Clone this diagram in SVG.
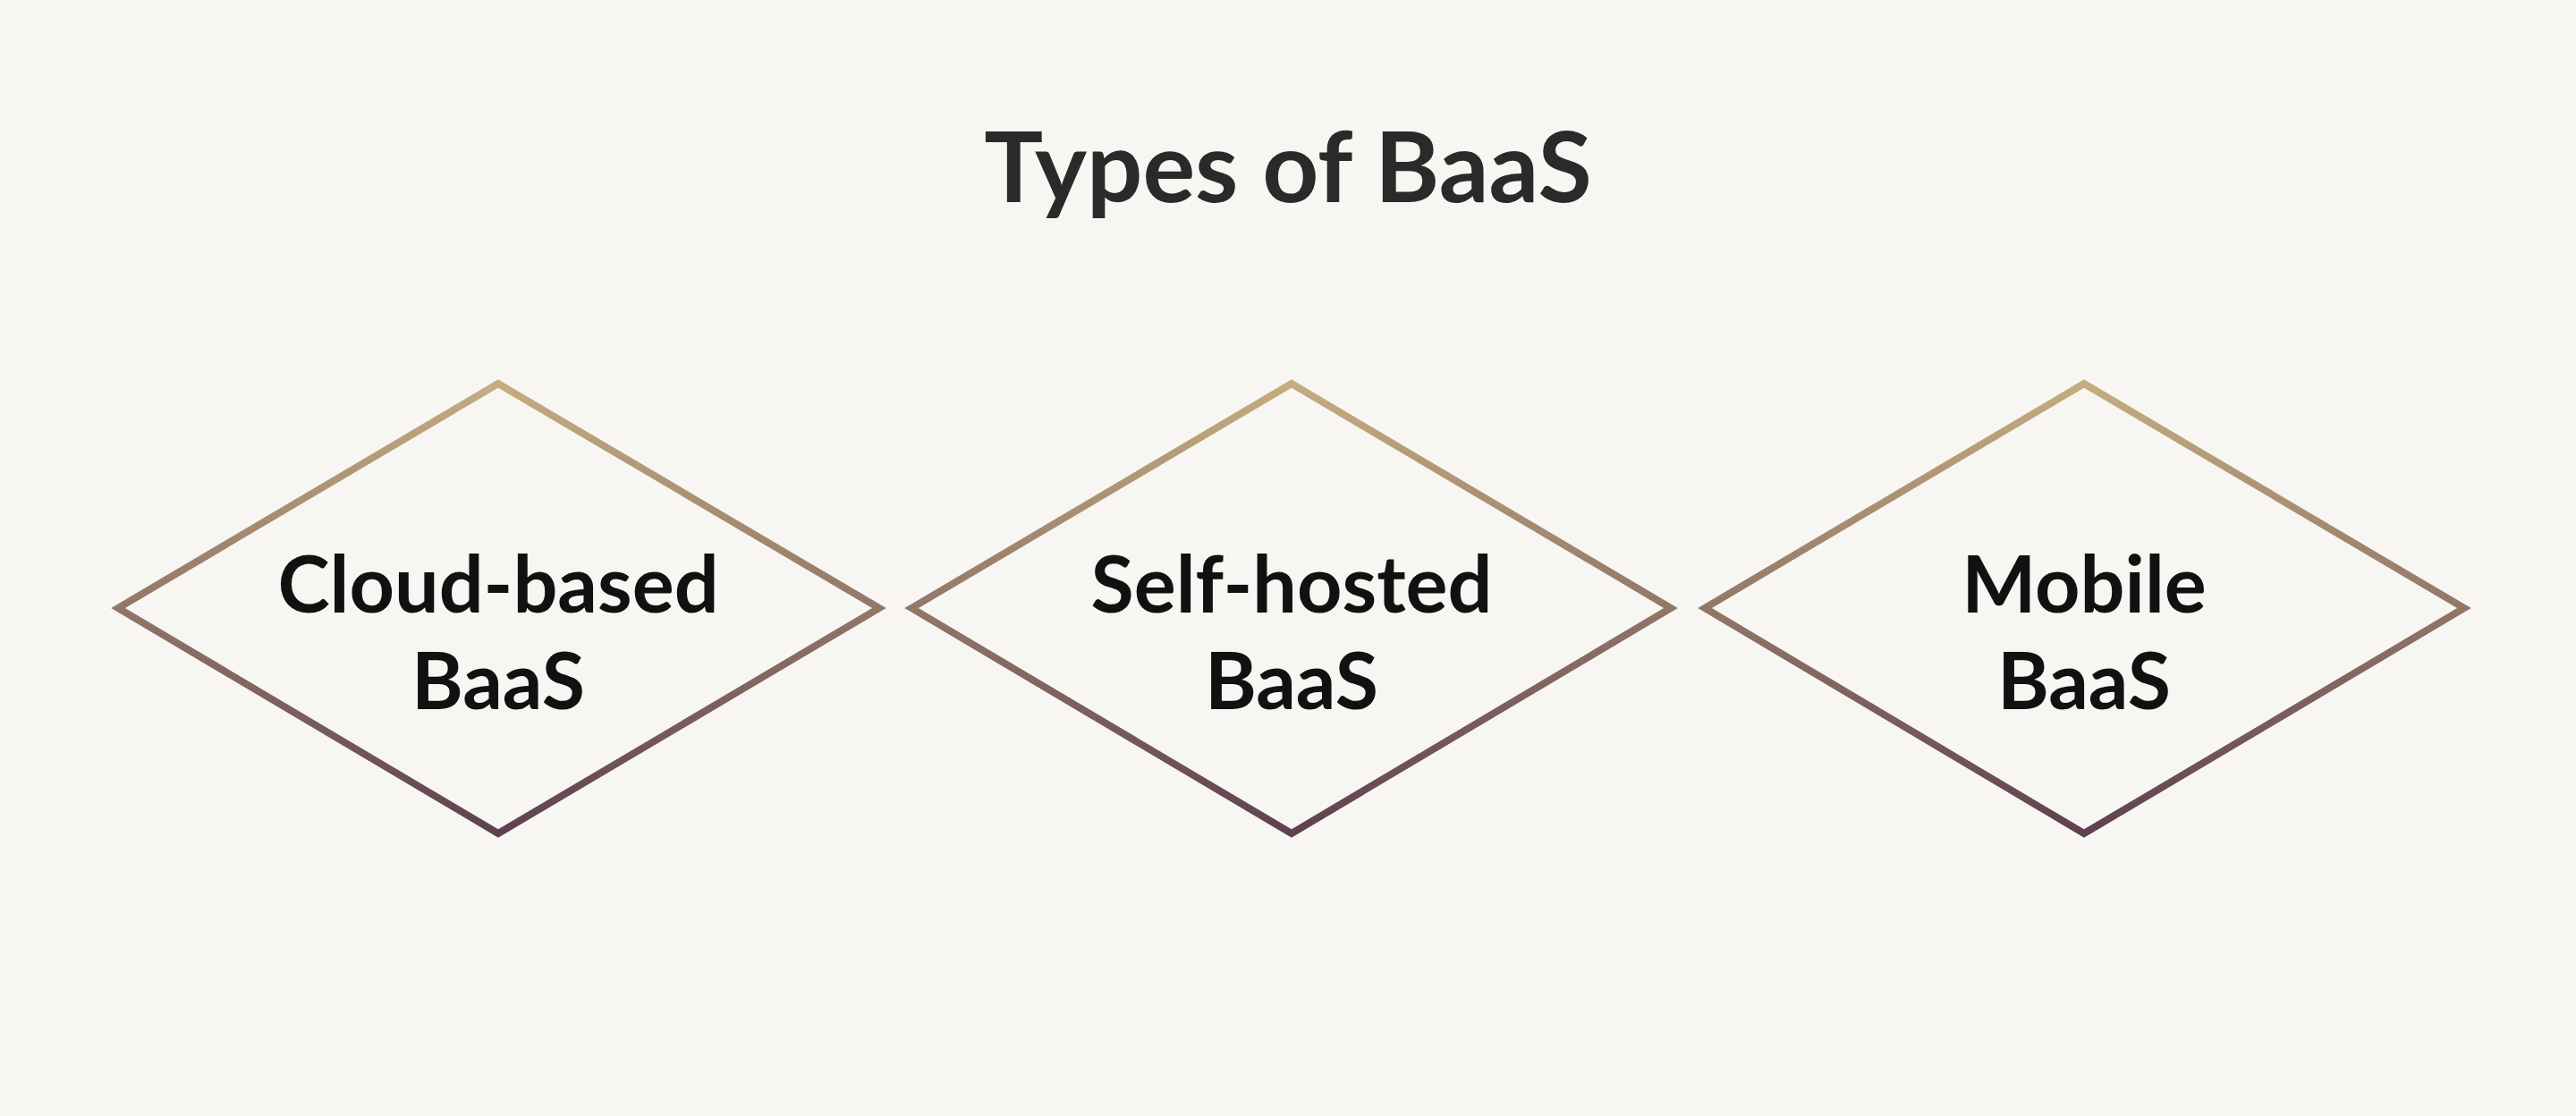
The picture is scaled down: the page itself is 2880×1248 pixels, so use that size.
<svg xmlns="http://www.w3.org/2000/svg" width="2880" height="1248" viewBox="0 0 2880 1248">
<style>
.d{fill:none;stroke:url(#g);stroke-width:8}
.t{font-family:Lato,"Open Sans",sans-serif;font-weight:bold;font-size:88px;fill:#111;text-anchor:middle}
.h{font-family:Lato,"Open Sans",sans-serif;font-weight:bold;font-size:110px;fill:#2a2a2a;text-anchor:middle}
</style>
<defs>
<linearGradient id="g" gradientUnits="objectBoundingBox" x1="0" y1="0" x2="0" y2="1">
<stop offset="0" stop-color="#C4AD80"/><stop offset="1" stop-color="#5E4150"/>
</linearGradient>
</defs>
<rect width="2880" height="1248" fill="#F7F6F2"/>
<text class="h" x="1440" y="226">Types of BaaS</text>
<g id="n1"><polygon class="d" points="557,429 983,680 557,932 132,680"/>
<text class="t" x="557" y="685">Cloud-based</text><text class="t" x="557" y="793">BaaS</text></g>
<g id="n2"><polygon class="d" points="1444,429 1868,680 1444,932 1019,680"/>
<text class="t" x="1444" y="685">Self-hosted</text><text class="t" x="1444" y="793">BaaS</text></g>
<g id="n3"><polygon class="d" points="2330,429 2755,680 2330,932 1906,680"/>
<text class="t" x="2330" y="685">Mobile</text><text class="t" x="2330" y="793">BaaS</text></g>
<g id="connectors"/>
</svg>
